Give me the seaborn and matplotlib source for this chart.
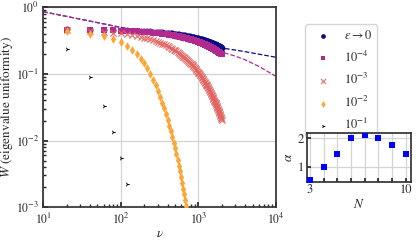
import matplotlib
matplotlib.use("Agg")
import matplotlib.pyplot as plt
import seaborn as sns
from matplotlib.ticker import LogLocator, FixedLocator, FixedFormatter

# ---------------- data ----------------
nu = list(range(20, 2001, 20))

w_eps0 = [0.465, 0.462, 0.459, 0.456, 0.453, 0.450, 0.448, 0.445, 0.442, 0.439,
          0.436, 0.434, 0.431, 0.428, 0.426, 0.423, 0.420, 0.418, 0.415, 0.412,
          0.410, 0.407, 0.405, 0.402, 0.400, 0.397, 0.395, 0.392, 0.390, 0.387,
          0.385, 0.382, 0.380, 0.378, 0.375, 0.373, 0.371, 0.368, 0.366, 0.364,
          0.361, 0.359, 0.357, 0.355, 0.352, 0.350, 0.348, 0.346, 0.344, 0.341,
          0.339, 0.337, 0.335, 0.333, 0.331, 0.329, 0.327, 0.325, 0.323, 0.321,
          0.319, 0.317, 0.315, 0.313, 0.311, 0.309, 0.307, 0.305, 0.303, 0.301,
          0.299, 0.297, 0.295, 0.293, 0.292, 0.290, 0.288, 0.286, 0.284, 0.283,
          0.281, 0.279, 0.277, 0.276, 0.274, 0.272, 0.270, 0.269, 0.267, 0.265,
          0.264, 0.262, 0.260, 0.259, 0.257, 0.256, 0.254, 0.252, 0.251, 0.249]

w_1e4 = [0.464, 0.460, 0.456, 0.452, 0.448, 0.444, 0.440, 0.436, 0.433, 0.429,
         0.425, 0.421, 0.418, 0.414, 0.410, 0.407, 0.403, 0.400, 0.396, 0.393,
         0.390, 0.386, 0.383, 0.380, 0.376, 0.373, 0.370, 0.367, 0.363, 0.360,
         0.357, 0.354, 0.351, 0.348, 0.345, 0.342, 0.339, 0.336, 0.333, 0.330,
         0.327, 0.325, 0.322, 0.319, 0.316, 0.313, 0.311, 0.308, 0.305, 0.303,
         0.300, 0.298, 0.295, 0.292, 0.290, 0.287, 0.285, 0.282, 0.280, 0.278,
         0.275, 0.273, 0.270, 0.268, 0.266, 0.263, 0.261, 0.259, 0.257, 0.254,
         0.252, 0.250, 0.248, 0.246, 0.244, 0.242, 0.239, 0.237, 0.235, 0.233,
         0.231, 0.229, 0.227, 0.225, 0.223, 0.221, 0.219, 0.218, 0.216, 0.214,
         0.212, 0.210, 0.208, 0.207, 0.205, 0.203, 0.201, 0.199, 0.198, 0.196]

w_1e3 = [0.455, 0.442, 0.429, 0.417, 0.405, 0.394, 0.383, 0.372, 0.361, 0.351,
         0.341, 0.331, 0.321, 0.312, 0.303, 0.294, 0.286, 0.277, 0.269, 0.261,
         0.254, 0.246, 0.239, 0.232, 0.225, 0.219, 0.212, 0.206, 0.200, 0.194,
         0.188, 0.182, 0.177, 0.172, 0.167, 0.161, 0.157, 0.152, 0.147, 0.143,
         0.139, 0.134, 0.130, 0.126, 0.122, 0.119, 0.115, 0.112, 0.108, 0.105,
         0.102, 0.0984, 0.0953, 0.0924, 0.0895, 0.0867, 0.0840, 0.0814, 0.0788, 0.0763,
         0.0739, 0.0716, 0.0694, 0.0672, 0.0651, 0.0630, 0.0610, 0.0591, 0.0572, 0.0554,
         0.0536, 0.0519, 0.0502, 0.0486, 0.0470, 0.0455, 0.0441, 0.0426, 0.0413, 0.0399,
         0.0386, 0.0374, 0.0362, 0.0350, 0.0338, 0.0327, 0.0317, 0.0306, 0.0296, 0.0286,
         0.0277, 0.0268, 0.0259, 0.0250, 0.0242, 0.0234, 0.0226, 0.0219, 0.0211, 0.0204]

nu_1e2 = list(range(20, 701, 20))
w_1e2 = [0.437, 0.403, 0.368, 0.333, 0.297, 0.263, 0.230, 0.199, 0.170, 0.144,
         0.121, 0.100, 0.0820, 0.0673, 0.0552, 0.0453, 0.0372, 0.0305, 0.0250, 0.0205,
         0.0168, 0.0138, 0.0113, 0.00929, 0.00762, 0.00625, 0.00513, 0.00421, 0.00345,
         0.00283, 0.00232, 0.00191, 0.00156, 0.00128, 0.00105]

nu_1e1 = [20, 40, 60, 80, 100, 120]
w_1e1 = [0.24, 0.089, 0.033, 0.0134, 0.0055, 0.00227]

nu_fit = [10, 20, 50, 100, 200, 500, 700, 1000, 1500, 2000, 3000, 4000, 6000, 10000]
w_fit_eps0 = [0.86, 0.73, 0.59, 0.50, 0.43, 0.35, 0.322, 0.295, 0.265, 0.245, 0.228, 0.216, 0.198, 0.178]
w_fit_1e4 = [0.859, 0.729, 0.588, 0.497, 0.424, 0.338, 0.307, 0.275, 0.239, 0.213, 0.185, 0.163, 0.130, 0.092]

N_vals = [3, 4, 5, 6, 7, 8, 9, 10]
alpha_vals = [0.55, 1.0, 1.45, 2.0, 2.12, 2.0, 1.77, 1.45]

labels = [r"$\epsilon\to 0$", r"$10^{-4}$", r"$10^{-3}$", r"$10^{-2}$", r"$10^{-1}$"]
colors = ["#0d0887", "#b12a90", "#e16462", "#fca636", "black"]

# ---------------- style ----------------
sns.set_theme(style="ticks")
plt.rcParams["font.family"] = ["STIXGeneral", "DejaVu Serif"]
plt.rcParams["mathtext.fontset"] = "stix"
plt.rcParams["font.size"] = 9

fig = plt.figure(figsize=(4.16, 2.41), dpi=100)
ax = fig.add_axes([0.104, 0.14, 0.5595, 0.8297])
ax.set_xscale("log")
ax.set_yscale("log")

sns.lineplot(x=nu_fit, y=w_fit_eps0, ax=ax, color=colors[0], linestyle="--",
             linewidth=0.9, legend=False, zorder=1)
sns.lineplot(x=nu_fit, y=w_fit_1e4, ax=ax, color=colors[1], linestyle="--",
             linewidth=0.9, legend=False, zorder=1)

sns.scatterplot(x=nu, y=w_eps0, ax=ax, marker="o", s=18, color=colors[0],
                linewidth=0, label=labels[0], zorder=2)
sns.scatterplot(x=nu, y=w_1e4, ax=ax, marker="s", s=18, color=colors[1],
                linewidth=0, label=labels[1], zorder=3)
sns.scatterplot(x=nu, y=w_1e3, ax=ax, marker="x", s=20, color=colors[2],
                linewidth=0.9, alpha=0.85, label=labels[2], zorder=4)
sns.scatterplot(x=nu_1e2, y=w_1e2, ax=ax, marker="d", s=20, color=colors[3],
                linewidth=0, label=labels[3], zorder=5)
sns.scatterplot(x=nu_1e1, y=w_1e1, ax=ax, marker="4", s=10, color=colors[4],
                linewidth=0.7, label=labels[4], zorder=6)

ax.set_xlim(10, 1e4)
ax.set_ylim(1e-3, 1)
ax.xaxis.set_major_locator(LogLocator(base=10, numticks=10))
ax.yaxis.set_major_locator(LogLocator(base=10, numticks=10))
ax.grid(True, which="major", color="#d4d4d4", linewidth=0.9)
ax.set_axisbelow(True)
ax.tick_params(which="both", direction="in", labelsize=8.5)
ax.tick_params(which="major", length=3.5, pad=3)
ax.tick_params(which="minor", length=2)
ax.set_xlabel(r"$\nu$", fontsize=9.5, labelpad=1)
ax.set_ylabel(r"$W$ (eigenvalue uniformity)", fontsize=9.5)
ax.yaxis.set_label_coords(-0.12, 0.5)
for sp in ax.spines.values():
    sp.set_color("#333333")

leg = ax.legend(loc="upper left", bbox_to_anchor=(305 / 416, 1 - 24 / 241),
                bbox_transform=fig.transFigure, fontsize=9, frameon=True,
                borderaxespad=0, handletextpad=0.7, labelspacing=0.6,
                markerscale=0.8)
leg.get_frame().set_edgecolor("#cccccc")

# ---------------- inset ----------------
ins = fig.add_axes([0.737, 0.245, 0.251, 0.205])
sns.scatterplot(x=N_vals, y=alpha_vals, ax=ins, marker="s", s=16, color="#0000ff",
                linewidth=0, legend=False, zorder=3)
ins.set_xlim(2.75, 10.4)
ins.set_ylim(0.47, 2.2)
ins.xaxis.set_major_locator(FixedLocator(N_vals))
ins.xaxis.set_major_formatter(FixedFormatter(["3", "", "", "", "", "", "", "10"]))
ins.yaxis.set_major_locator(FixedLocator([1, 2]))
ins.grid(True, which="major", color="#d4d4d4", linewidth=0.9)
ins.set_axisbelow(True)
ins.tick_params(direction="in", labelsize=9, length=3, pad=2)
ins.set_xlabel(r"$N$", fontsize=9.5, labelpad=1)
ins.set_ylabel(r"$\alpha$", fontsize=9.5, labelpad=2)
for sp in ins.spines.values():
    sp.set_color("#333333")

fig.savefig("out.png", dpi=100)
